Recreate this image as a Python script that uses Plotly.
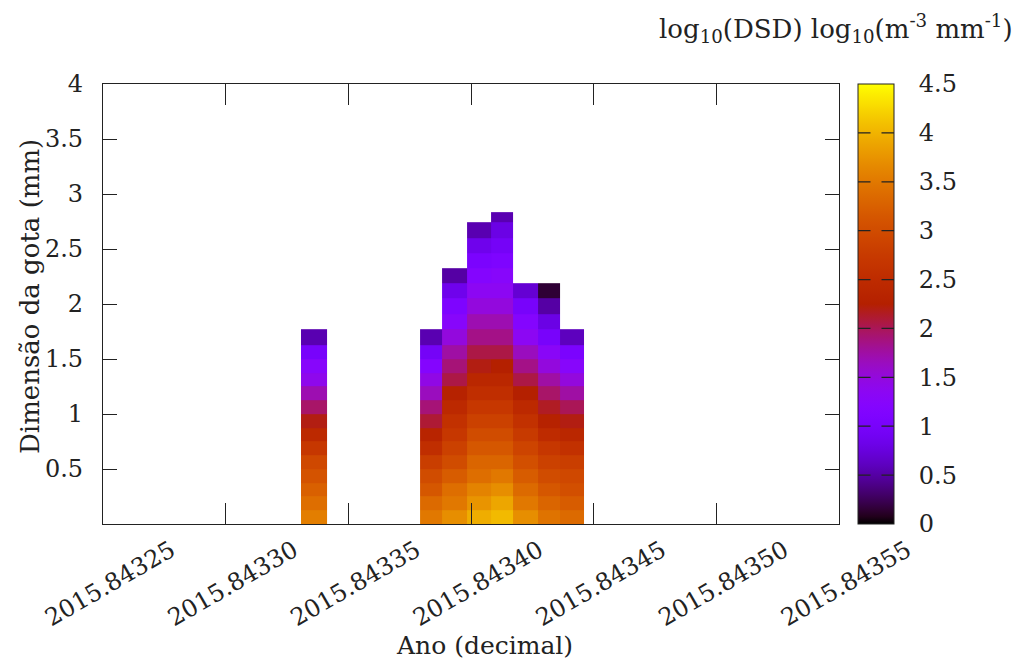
import math
import plotly.graph_objects as go

FONT = "DejaVu Serif, Liberation Serif, serif"

# Time-bin edges in decimal years (the second interval holds no drops)
time_edges = [2015.84333071, 2015.84334118, 2015.84337921, 2015.84338805,
              2015.84339824, 2015.84340815, 2015.84341712, 2015.84342731,
              2015.84343615, 2015.84344606]

# Drop-diameter class edges (mm)
diam_edges = [0.0, 0.125, 0.25, 0.375, 0.5, 0.625, 0.75, 0.875, 1.0, 1.125,
              1.25, 1.375, 1.5, 1.625, 1.775, 1.905, 2.05, 2.19, 2.325,
              2.46, 2.60, 2.745, 2.835]

# log10(DSD) per diameter class, smallest class first, one list per time bin
col_1 = [3.55, 3.4, 3.25, 3.1, 2.95, 2.7, 2.45, 2.2, 1.95, 1.7, 1.4, 1.25, 1.0, 0.55]
col_2 = []
col_3 = [3.5, 3.35, 3.15, 3.0, 2.8, 2.55, 2.35, 2.1, 1.9, 1.65, 1.45, 1.2, 0.95, 0.55]
col_4 = [3.7, 3.5, 3.4, 3.2, 3.0, 2.85, 2.7, 2.6, 2.45, 2.3, 2.05, 1.9, 1.75, 1.5,
         1.25, 1.1, 0.85, 0.5]
col_5 = [3.95, 3.75, 3.6, 3.4, 3.3, 3.15, 3.0, 2.85, 2.7, 2.55, 2.4, 2.2, 2.05,
         1.85, 1.7, 1.5, 1.35, 1.2, 1.05, 0.85, 0.55]
col_6 = [4.05, 3.9, 3.7, 3.5, 3.3, 3.15, 3.0, 2.85, 2.7, 2.55, 2.4, 2.25, 2.05,
         1.85, 1.7, 1.5, 1.35, 1.25, 1.1, 0.95, 0.8, 0.55]
col_7 = [3.7, 3.5, 3.35, 3.2, 3.05, 2.9, 2.75, 2.6, 2.45, 2.25, 2.05, 1.85, 1.65,
         1.35, 1.2, 1.0, 0.7]
col_8 = [3.45, 3.3, 3.15, 3.0, 2.85, 2.7, 2.5, 2.3, 2.15, 1.95, 1.75, 1.5, 1.3,
         1.0, 0.8, 0.5, 0.15]
col_9 = [3.35, 3.2, 3.05, 2.95, 2.8, 2.6, 2.4, 2.2, 2.0, 1.75, 1.5, 1.25, 1.05, 0.6]

columns = [col_1, col_2, col_3, col_4, col_5, col_6, col_7, col_8, col_9]

# Axis ticks
x_ticks = [2015.84325, 2015.84330, 2015.84335, 2015.84340, 2015.84345,
           2015.84350, 2015.84355]
x_labels = ["2015.84325", "2015.84330", "2015.84335", "2015.84340",
            "2015.84345", "2015.84350", "2015.84355"]
y_ticks = [0.5, 1, 1.5, 2, 2.5, 3, 3.5, 4]
y_labels = ["0.5", "1", "1.5", "2", "2.5", "3", "3.5", "4"]
cb_ticks = [0, 0.5, 1, 1.5, 2, 2.5, 3, 3.5, 4, 4.5]
cb_labels = ["0", "0.5", "1", "1.5", "2", "2.5", "3", "3.5", "4", "4.5"]
Z_MIN, Z_MAX = 0.0, 4.5

n_rows = len(diam_edges) - 1
z = [[col[i] if i < len(col) else None for col in columns] for i in range(n_rows)]


def pm3d_color(v):
    """gnuplot's default pm3d palette (rgbformulae 7,5,15)."""
    r = math.sqrt(v)
    g = v ** 3
    b = max(0.0, math.sin(2 * math.pi * v))
    return "rgb({},{},{})".format(round(255 * r), round(255 * g), round(255 * b))


colorscale = [[i / 60, pm3d_color(i / 60)] for i in range(61)]

# Plot-area geometry in pixels
W, H = 1019, 664
L, R, T, B = 103, 180, 84, 140
pw, ph = W - L - R, H - T - B
cb_left, cb_width = 858, 36
INK = "#222"

fig = go.Figure(
    go.Heatmap(
        x=time_edges,
        y=diam_edges,
        z=z,
        zmin=Z_MIN,
        zmax=Z_MAX,
        colorscale=colorscale,
        connectgaps=False,
        hoverongaps=False,
        colorbar=dict(
            x=(cb_left - L) / pw, xanchor="left", xpad=0,
            y=0, yanchor="bottom", ypad=0,
            len=1, lenmode="fraction",
            thickness=cb_width, thicknessmode="pixels",
            outlinewidth=1, outlinecolor=INK,
            tickvals=cb_ticks, ticktext=cb_labels,
            # invisible outside ticks only push the labels away from the bar
            ticks="outside", ticklen=20, tickcolor="rgba(0,0,0,0)",
            tickfont=dict(family=FONT, size=24, color=INK),
        ),
    )
)

axis_common = dict(
    showgrid=False, zeroline=False, showline=True, linecolor=INK,
    linewidth=1.2, mirror="allticks", ticks="inside", tickcolor=INK,
    tickwidth=1.2, tickfont=dict(family=FONT, size=24, color=INK),
)

fig.update_xaxes(
    range=[x_ticks[0], x_ticks[-1]], tickvals=x_ticks, ticktext=x_labels,
    tickangle=-30, ticklen=21, ticklabelshift=68, ticklabelstandoff=2,
    **axis_common,
)
fig.update_yaxes(
    range=[0, 4], tickvals=y_ticks, ticktext=y_labels, ticklen=14,
    ticklabelstandoff=14, **axis_common,
)

annotations = [
    dict(text="Ano (decimal)", xref="paper", yref="paper",
         x=(484 - L) / pw, y=-(645 - (T + ph)) / ph,
         xanchor="center", yanchor="middle", showarrow=False,
         font=dict(family=FONT, size=25, color=INK)),
    dict(text="Dimensão da gota (mm)", xref="paper", yref="paper",
         x=(30 - L) / pw, y=(T + ph - 297) / ph, textangle=-90,
         xanchor="center", yanchor="middle", showarrow=False,
         font=dict(family=FONT, size=26, color=INK)),
    dict(text="log<sub>10</sub>(DSD) log<sub>10</sub>(m<sup>-3</sup> mm<sup>-1</sup>)",
         xref="paper", yref="paper", x=(1015 - L) / pw, y=(T + ph - 28) / ph,
         xanchor="right", yanchor="middle", showarrow=False,
         font=dict(family=FONT, size=26, color=INK)),
]

# Short tick marks drawn inward from both sides of the colour bar
for v in cb_ticks[1:-1]:
    yv = (v - Z_MIN) / (Z_MAX - Z_MIN)
    for x_edge, dx in ((cb_left, 14), (cb_left + cb_width, -14)):
        annotations.append(dict(
            text="", xref="paper", yref="paper",
            x=(x_edge - L) / pw, y=yv,
            showarrow=True, arrowhead=0, arrowwidth=1.2, arrowcolor=INK,
            ax=dx, ay=0, axref="pixel", ayref="pixel",
            standoff=0, startstandoff=0,
        ))

fig.update_layout(
    width=W, height=H,
    margin=dict(l=L, r=R, t=T, b=B, autoexpand=False),
    paper_bgcolor="white", plot_bgcolor="white",
    font=dict(family=FONT, color=INK),
    annotations=annotations,
    showlegend=False,
)

fig.write_html("out.html")
